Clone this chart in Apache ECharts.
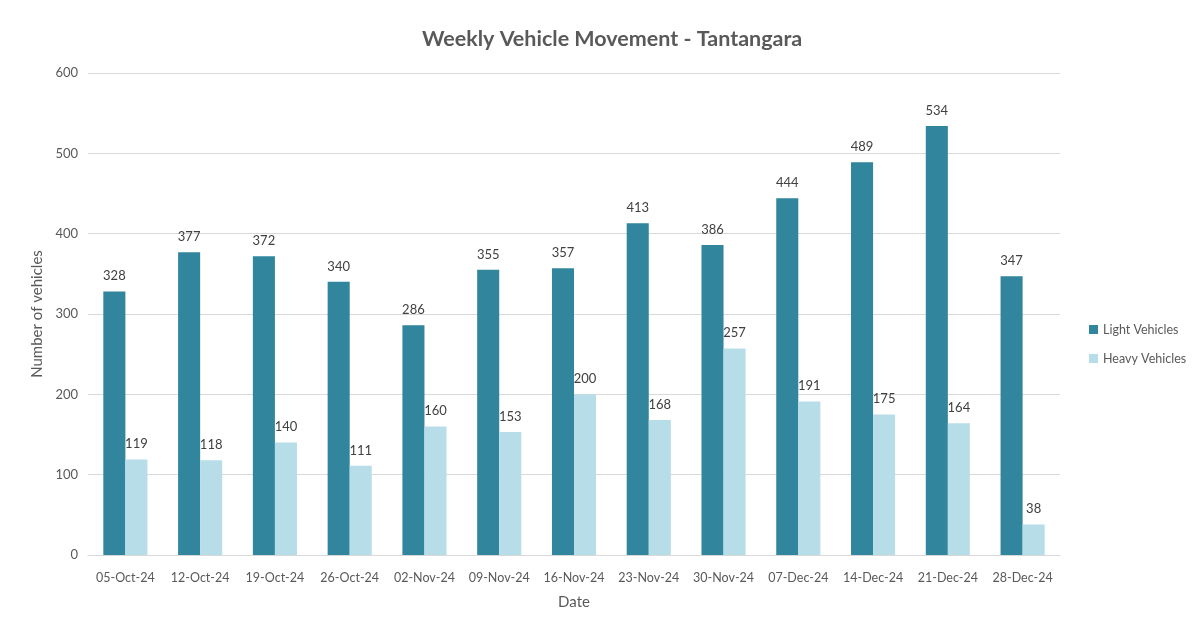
<!DOCTYPE html>
<html>
<head>
<meta charset="utf-8">
<script src="https://cdn.jsdelivr.net/npm/echarts@6/dist/echarts.min.js"></script>
<style>
  html, body { margin: 0; padding: 0; background: #fff; }
  #chart { width: 1201px; height: 628px; }
</style>
</head>
<body>
<div id="chart"></div>
<script>
// Data
const categories = ['05-Oct-24', '12-Oct-24', '19-Oct-24', '26-Oct-24', '02-Nov-24', '09-Nov-24',
  '16-Nov-24', '23-Nov-24', '30-Nov-24', '07-Dec-24', '14-Dec-24', '21-Dec-24', '28-Dec-24']
const lightVehicles = [328, 377, 372, 340, 286, 355, 357, 413, 386, 444, 489, 534, 347]
const heavyVehicles = [119, 118, 140, 111, 160, 153, 200, 168, 257, 191, 175, 164, 38]

const textColor = '#595959'
const fontFamily = 'Lato, "Open Sans", sans-serif'

const chart = echarts.init(document.getElementById('chart'))

const labelStyle = {
  show: true,
  position: 'top',
  color: '#404040',
  fontSize: 13,
  fontFamily: fontFamily,
  distance: 9
}

chart.setOption({
  animation: false,
  title: {
    text: 'Weekly Vehicle Movement - Tantangara',
    left: 417,
    top: 23,
    textStyle: { color: textColor, fontSize: 21.5, fontWeight: 'bold', fontFamily: fontFamily }
  },
  legend: {
    orient: 'vertical',
    left: 1084,
    top: 318,
    itemWidth: 9,
    itemHeight: 9,
    itemGap: 16,
    icon: 'rect',
    textStyle: { color: textColor, fontSize: 12.5, fontFamily: fontFamily }
  },
  grid: { left: 88, right: 141, top: 73, bottom: 73 },
  xAxis: {
    type: 'category',
    data: categories,
    name: 'Date',
    nameLocation: 'middle',
    nameGap: 40,
    nameTextStyle: { color: textColor, fontSize: 15, fontFamily: fontFamily },
    axisLine: { lineStyle: { color: '#d9d9d9' } },
    axisTick: { show: false },
    axisLabel: { interval: 0, color: textColor, fontSize: 12.5, fontFamily: fontFamily, margin: 16 }
  },
  yAxis: {
    type: 'value',
    min: 0,
    max: 600,
    interval: 100,
    name: 'Number of vehicles',
    nameLocation: 'middle',
    nameGap: 42,
    nameTextStyle: { color: textColor, fontSize: 15, fontFamily: fontFamily },
    axisLine: { show: false },
    axisTick: { show: false },
    axisLabel: { color: textColor, fontSize: 13, fontFamily: fontFamily, margin: 10 },
    splitLine: { lineStyle: { color: '#d9d9d9' } }
  },
  series: [
    {
      name: 'Light Vehicles',
      type: 'bar',
      data: lightVehicles,
      barGap: '0%',
      barCategoryGap: '41%',
      itemStyle: { color: '#31859C' },
      label: labelStyle
    },
    {
      name: 'Heavy Vehicles',
      type: 'bar',
      data: heavyVehicles,
      itemStyle: { color: '#B7DEE8' },
      label: labelStyle
    }
  ]
})
</script>
</body>
</html>
